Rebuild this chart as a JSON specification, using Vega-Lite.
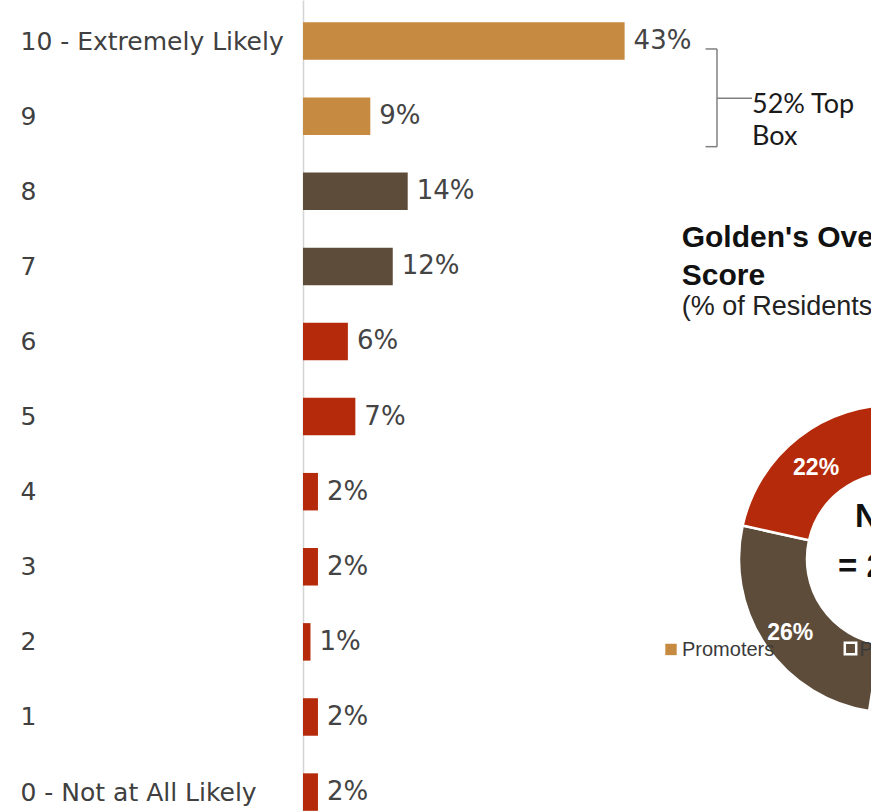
{
  "$schema": "https://vega.github.io/schema/vega-lite/v6.json",
  "width": 568,
  "height": 811,
  "autosize": {"type": "none"},
  "padding": {"left": 303, "top": 0, "right": 0, "bottom": 0},
  "background": "white",
  "config": {"view": {"stroke": null}},
  "data": {
    "values": [
      {"rating": 10, "pct": 0.43, "group": "Promoters"},
      {"rating": 9, "pct": 0.09, "group": "Promoters"},
      {"rating": 8, "pct": 0.14, "group": "Passives"},
      {"rating": 7, "pct": 0.12, "group": "Passives"},
      {"rating": 6, "pct": 0.06, "group": "Detractors"},
      {"rating": 5, "pct": 0.07, "group": "Detractors"},
      {"rating": 4, "pct": 0.02, "group": "Detractors"},
      {"rating": 3, "pct": 0.02, "group": "Detractors"},
      {"rating": 2, "pct": 0.01, "group": "Detractors"},
      {"rating": 1, "pct": 0.02, "group": "Detractors"},
      {"rating": 0, "pct": 0.02, "group": "Detractors"}
    ]
  },
  "layer": [
    {
      "mark": {"type": "bar", "orient": "horizontal", "size": 37.5},
      "encoding": {
        "y": {
          "field": "rating", "type": "quantitative",
          "scale": {"domain": [-0.252, 10.547], "nice": false, "zero": false, "padding": 0},
          "axis": {
            "values": [0, 1, 2, 3, 4, 5, 6, 7, 8, 9, 10],
            "format": "d",
            "labelExpr": "datum.value == 10 ? '10 - Extremely Likely' : datum.value == 0 ? '0 - Not at All Likely' : datum.label",
            "labelAlign": "left", "labelBaseline": "middle", "labelPadding": 283, "labelLimit": 0,
            "ticks": false, "tickSize": 0, "grid": false,
            "domainColor": "#d4d4d4", "domainWidth": 1.5,
            "labelFont": "DejaVu Sans", "labelFontSize": 25, "labelColor": "#404040",
            "labelOverlap": false, "labelFlush": false, "title": null
          }
        },
        "x": {"field": "pct", "type": "quantitative", "scale": {"domain": [0, 0.7594], "nice": false, "padding": 0}, "axis": null},
        "color": {
          "field": "group", "type": "nominal",
          "scale": {"domain": ["Promoters", "Passives", "Detractors"], "range": ["#C68A40", "#5E4C3A", "#B42A0A"]},
          "legend": null
        }
      }
    },
    {
      "mark": {"type": "text", "align": "left", "baseline": "middle", "dx": 9, "font": "DejaVu Sans", "fontSize": 26, "color": "#444444"},
      "encoding": {
        "y": {"field": "rating", "type": "quantitative"},
        "x": {"field": "pct", "type": "quantitative"},
        "text": {"field": "pct", "type": "quantitative", "format": ".0%"}
      }
    },
    {
      "transform": [{"aggregate": [{"op": "sum", "field": "pct", "as": "total"}], "groupby": ["group"]}],
      "layer": [
        {
          "mark": {"type": "arc", "innerRadius": 86, "outerRadius": 154, "stroke": "white", "strokeWidth": 2.5},
          "encoding": {
            "theta": {"field": "total", "type": "quantitative", "stack": true, "scale": {"range": [0.03, 6.3132]}},
            "order": {"field": "group", "type": "ordinal", "sort": "descending"},
            "color": {"field": "group", "type": "nominal", "legend": null},
            "x": {"datum": 0.7888},
            "y": {"datum": 3.104}
          }
        },
        {
          "mark": {"type": "text", "radius": 122, "dy": 5, "dx": -2, "font": "Liberation Sans", "fontSize": 23, "fontWeight": "bold", "color": "white"},
          "encoding": {
            "theta": {"field": "total", "type": "quantitative", "stack": true},
            "order": {"field": "group", "type": "ordinal", "sort": "descending"},
            "text": {"field": "total", "type": "quantitative", "format": ".0%"},
            "x": {"datum": 0.7888},
            "y": {"datum": 3.104}
          }
        }
      ]
    },
    {
      "data": {"values": [{}]},
      "layer": [
        {"mark": {"type": "rule", "color": "#808080", "strokeWidth": 1.5}, "encoding": {"x": {"datum": 0.5382}, "x2": {"datum": 0.5535}, "y": {"datum": 9.895}}},
        {"mark": {"type": "rule", "color": "#808080", "strokeWidth": 1.5}, "encoding": {"x": {"datum": 0.5382}, "x2": {"datum": 0.5535}, "y": {"datum": 8.594}}},
        {"mark": {"type": "rule", "color": "#808080", "strokeWidth": 1.5}, "encoding": {"x": {"datum": 0.5535}, "y": {"datum": 9.895}, "y2": {"datum": 8.594}}},
        {"mark": {"type": "rule", "color": "#808080", "strokeWidth": 1.5}, "encoding": {"x": {"datum": 0.5535}, "x2": {"datum": 0.6003}, "y": {"datum": 9.239}}},
        {
          "mark": {"type": "text", "align": "left", "baseline": "alphabetic", "font": "Lato", "fontSize": 27, "lineHeight": 32, "color": "#1a1a1a"},
          "encoding": {"x": {"datum": 0.6003}, "y": {"datum": 9.043}, "text": {"value": ["52% Top", "Box"]}}
        },
        {
          "mark": {"type": "text", "align": "left", "baseline": "alphabetic", "font": "Liberation Sans", "fontSize": 30, "fontWeight": "bold", "lineHeight": 38.5, "color": "#111111"},
          "encoding": {"x": {"datum": 0.5063}, "y": {"datum": 7.262}, "text": {"value": ["Golden's Overall Net Promoter", "Score"]}}
        },
        {
          "mark": {"type": "text", "align": "left", "baseline": "alphabetic", "font": "Liberation Sans", "fontSize": 27, "color": "#222222"},
          "encoding": {"x": {"datum": 0.5063}, "y": {"datum": 6.352}, "text": {"value": "(% of Residents)"}}
        },
        {
          "mark": {"type": "text", "align": "left", "baseline": "alphabetic", "font": "Liberation Sans", "fontSize": 33, "fontWeight": "bold", "color": "#111111"},
          "encoding": {"x": {"datum": 0.738}, "y": {"datum": 3.53}, "text": {"value": "NPS"}}
        },
        {
          "mark": {"type": "text", "align": "left", "baseline": "alphabetic", "font": "Liberation Sans", "fontSize": 33, "fontWeight": "bold", "color": "#111111"},
          "encoding": {"x": {"datum": 0.7152}, "y": {"datum": 2.864}, "text": {"value": "= 29"}}
        },
        {
          "mark": {"type": "point", "shape": "square", "filled": true, "size": 130, "color": "#C68A40", "opacity": 1},
          "encoding": {"x": {"datum": 0.492}, "y": {"datum": 1.899}}
        },
        {
          "mark": {"type": "text", "align": "left", "baseline": "middle", "font": "Liberation Sans", "fontSize": 20, "color": "#3a3a3a"},
          "encoding": {"x": {"datum": 0.5067}, "y": {"datum": 1.892}, "text": {"value": "Promoters"}}
        },
        {
          "mark": {"type": "point", "shape": "square", "filled": true, "size": 130, "fill": "#5E4C3A", "stroke": "white", "strokeWidth": 2.5, "opacity": 1},
          "encoding": {"x": {"datum": 0.732}, "y": {"datum": 1.912}}
        },
        {
          "mark": {"type": "text", "align": "left", "baseline": "middle", "font": "Liberation Sans", "fontSize": 20, "color": "#3a3a3a"},
          "encoding": {"x": {"datum": 0.744}, "y": {"datum": 1.892}, "text": {"value": "Passives"}}
        }
      ]
    }
  ]
}
